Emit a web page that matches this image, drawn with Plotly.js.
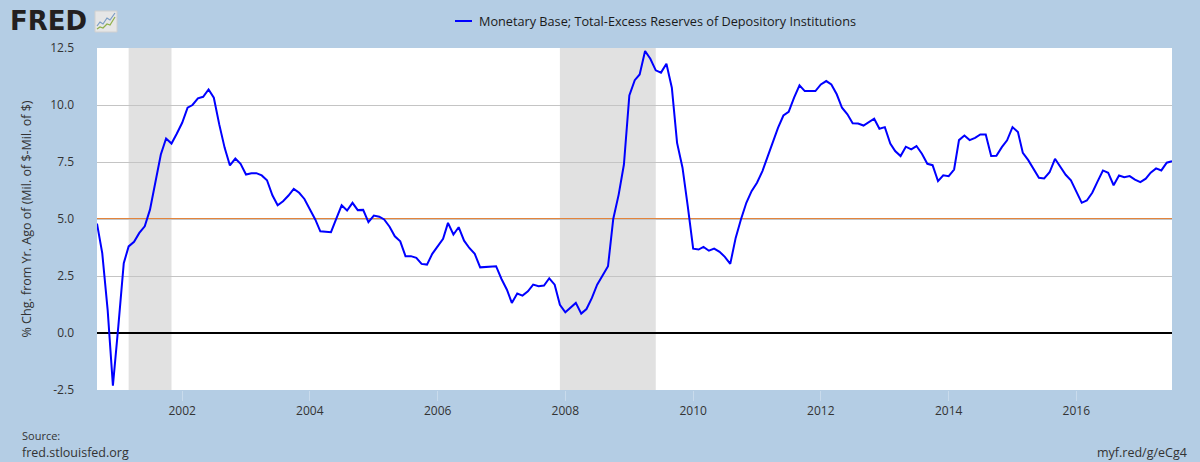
<!DOCTYPE html>
<html>
<head>
<meta charset="utf-8">
<script src="https://cdn.plot.ly/plotly-3.0.1.min.js"></script>
<style>
  html, body { margin: 0; padding: 0; background: #b4cde4; }
  #chart { width: 1200px; height: 462px; }
</style>
</head>
<body>
<div id="chart"></div>
<script>
// ---- Data (monthly, % change from year ago) ----
const seriesName = "Monetary Base; Total-Excess Reserves of Depository Institutions";
const startMonth = "2000-09";   // first observation
const values = [
  // 2000 (Sep-Dec)
  4.8, 3.5, 1.0, -2.31,
  // 2001
  0.3, 3.06, 3.8, 4.0, 4.39, 4.68, 5.41, 6.66, 7.83, 8.53, 8.31, 8.74,
  // 2002
  9.22, 9.88, 10.0, 10.29, 10.36, 10.68, 10.32, 9.15, 8.12, 7.35, 7.65, 7.42,
  // 2003
  6.95, 7.01, 7.01, 6.91, 6.7, 6.04, 5.6, 5.78, 6.03, 6.32, 6.15, 5.88,
  // 2004
  5.44, 4.98, 4.46, 4.45, 4.42, 5.03, 5.6, 5.37, 5.71, 5.39, 5.4, 4.86,
  // 2005
  5.15, 5.1, 4.98, 4.66, 4.24, 4.02, 3.37, 3.37, 3.3, 3.03, 3.0, 3.47,
  // 2006
  3.78, 4.13, 4.83, 4.32, 4.64, 4.05, 3.73, 3.47, 2.88, 2.9, 2.94, 2.93,
  // 2007
  2.37, 1.9, 1.32, 1.73, 1.64, 1.83, 2.12, 2.05, 2.08, 2.4, 2.12, 1.24,
  // 2008
  0.91, 1.14, 1.32, 0.85, 1.05, 1.54, 2.12, 2.52, 2.93, 5.0, 6.07, 7.39,
  // 2009
  10.42, 11.09, 11.34, 12.37, 12.03, 11.52, 11.42, 11.81, 10.76, 8.34, 7.25, 5.56,
  // 2010
  3.7, 3.66, 3.78, 3.61, 3.7, 3.56, 3.34, 3.03, 4.17, 4.98, 5.71, 6.22,
  // 2011
  6.59, 7.1, 7.69, 8.31, 9.0, 9.54, 9.7, 10.32, 10.86, 10.61, 10.61, 10.61,
  // 2012
  10.9, 11.05, 10.9, 10.47, 9.88, 9.59, 9.2, 9.19, 9.1, 9.25, 9.4, 8.96,
  // 2013
  9.03, 8.31, 7.98, 7.76, 8.17, 8.05, 8.2, 7.86, 7.42, 7.36, 6.66, 6.92,
  // 2014
  6.88, 7.17, 8.46, 8.66, 8.46, 8.56, 8.71, 8.71, 7.76, 7.77, 8.15, 8.45,
  // 2015
  9.03, 8.81, 7.9, 7.58, 7.2, 6.81, 6.78, 7.05, 7.64, 7.29, 6.94, 6.7,
  // 2016
  6.22, 5.71, 5.81, 6.15, 6.64, 7.13, 7.03, 6.48, 6.91, 6.83, 6.88, 6.73,
  // 2017 (Jan-Jul)
  6.62, 6.77, 7.03, 7.22, 7.13, 7.47, 7.54
];
const recessionStarts = ["2001-03-01", "2007-12-01"];
const recessionEnds   = ["2001-11-01", "2009-06-01"];
const referenceLevel = [5.0];
const yTickVals = [-2.5, 0, 2.5, 5, 7.5, 10, 12.5];
const yTickText = ["-2.5", "0.0", "2.5", "5.0", "7.5", "10.0", "12.5"];
const xTickVals = ["2002-01-01","2004-01-01","2006-01-01","2008-01-01","2010-01-01","2012-01-01","2014-01-01","2016-01-01"];
const xTickText = ["2002","2004","2006","2008","2010","2012","2014","2016"];
const yTitle = "% Chg. from Yr. Ago of (Mil. of $-Mil. of $)";
const sourceLabel = "Source:";
const sourceUrl = "fred.stlouisfed.org";
const shortLink = "myf.red/g/eCg4";
const logoText = "FRED";

// ---- Build monthly dates ----
const dates = [];
{
  let [y, m] = startMonth.split("-").map(Number);
  for (let i = 0; i < values.length; i++) {
    dates.push(y + "-" + String(m).padStart(2, "0") + "-01");
    m++; if (m > 12) { m = 1; y++; }
  }
}

// ---- Geometry helpers for decorations outside the plot (pixel -> paper) ----
const W = 1200, H = 462, M = {l: 97, r: 28, t: 48, b: 72};
const PW = W - M.l - M.r, PH = H - M.t - M.b;
const px = x => (x - M.l) / PW;
const py = y => (H - M.b - y) / PH;

const font = "Open Sans, Noto Sans, sans-serif";

const shapes = [];
recessionStarts.forEach((s, i) => {
  shapes.push({type: "rect", xref: "x", yref: "paper", x0: s, x1: recessionEnds[i], y0: 0, y1: 1,
    fillcolor: "#e1e1e1", line: {width: 0}, layer: "below"});
});
referenceLevel.forEach(v => {
  shapes.push({type: "line", xref: "paper", yref: "y", x0: 0, x1: 1, y0: v, y1: v,
    line: {color: "#e3843c", width: 2}, layer: "between"});
});
// legend sample line
shapes.push({type: "line", xref: "paper", yref: "paper", x0: px(455), x1: px(472), y0: py(21), y1: py(21),
  line: {color: "#0000ff", width: 2}});
// logo icon
shapes.push({type: "rect", xref: "paper", yref: "paper", x0: px(95), x1: px(117), y0: py(32), y1: py(11),
  fillcolor: "#e6e6e6", line: {color: "#d0d0d0", width: 1}});
const path = pts => "M" + pts.map(p => px(p[0]) + "," + py(p[1])).join(" L");
shapes.push({type: "path", xref: "paper", yref: "paper",
  path: path([[97,26],[100,22],[103,24],[107,18],[110,20],[115,13]]), line: {color: "#7a9cc4", width: 1.2}});
shapes.push({type: "path", xref: "paper", yref: "paper",
  path: path([[97,29],[100,27],[103,28],[107,24],[110,25],[115,17]]), line: {color: "#8fb04a", width: 1.2}});

const annotations = [
  {xref: "paper", yref: "paper", x: px(477), y: py(21), xanchor: "left", yanchor: "middle",
   text: seriesName, showarrow: false, font: {family: font, size: 12.7, color: "#1a1a1a"}},
  {xref: "paper", yref: "paper", x: px(8), y: py(21), xanchor: "left", yanchor: "middle",
   text: "<b>" + logoText + "</b>", showarrow: false, font: {family: "DejaVu Sans, sans-serif", size: 26, color: "#231f20"}},
  {xref: "paper", yref: "paper", x: px(20), y: py(435), xanchor: "left", yanchor: "middle",
   text: sourceLabel, showarrow: false, font: {family: font, size: 11, color: "#333333"}},
  {xref: "paper", yref: "paper", x: px(20), y: py(453), xanchor: "left", yanchor: "middle",
   text: sourceUrl, showarrow: false, font: {family: font, size: 12.5, color: "#333333"}},
  {xref: "paper", yref: "paper", x: px(1189), y: py(453), xanchor: "right", yanchor: "middle",
   text: shortLink, showarrow: false, font: {family: font, size: 12.5, color: "#333333"}}
];

const trace = {
  type: "scatter", mode: "lines", name: seriesName,
  x: dates, y: values,
  line: {color: "#0000ff", width: 2},
  hoverinfo: "skip"
};

const layout = {
  width: W, height: H,
  margin: M,
  paper_bgcolor: "#b4cde4",
  plot_bgcolor: "#ffffff",
  showlegend: false,
  font: {family: font, size: 12, color: "#333333"},
  xaxis: {
    type: "date",
    range: [dates[0], dates[dates.length - 1]],
    tickvals: xTickVals, ticktext: xTickText,
    showgrid: false, zeroline: false, showline: false,
    ticks: "outside", ticklen: 10, tickcolor: "#c9dbec", tickwidth: 1,
    tickfont: {family: font, size: 12, color: "#333333"}
  },
  yaxis: {
    range: [-2.5, 12.5],
    tickvals: yTickVals, ticktext: yTickText,
    showgrid: true, gridcolor: "#c4c4c4", gridwidth: 1,
    zeroline: true, zerolinecolor: "#000000", zerolinewidth: 2,
    showline: false, ticks: "", ticklabelstandoff: 22,
    tickfont: {family: font, size: 12, color: "#333333"},
    title: {text: yTitle, standoff: 15, font: {family: font, size: 12.5, color: "#333333"}}
  },
  shapes: shapes,
  annotations: annotations
};

Plotly.newPlot("chart", [trace], layout, {staticPlot: true, displayModeBar: false});
</script>
</body>
</html>
